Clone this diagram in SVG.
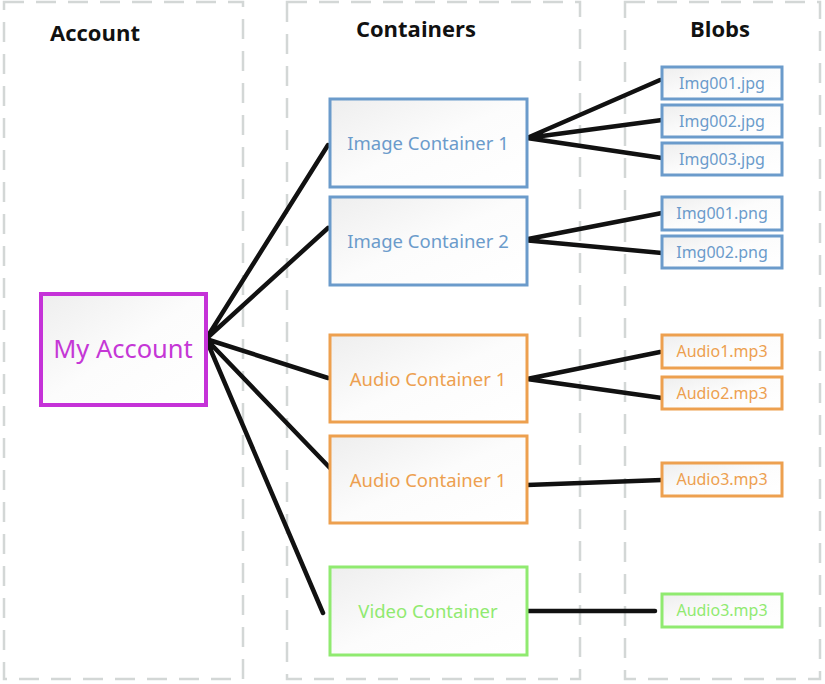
<svg xmlns="http://www.w3.org/2000/svg" width="825" height="684" viewBox="0 0 825 684">
<defs>
<linearGradient id="g" x1="0" y1="0" x2="1" y2="1">
<stop offset="0" stop-color="#eeeeee"/>
<stop offset="0.5" stop-color="#fcfcfc"/>
<stop offset="1" stop-color="#ffffff"/>
</linearGradient>
<style>
.col{fill:none;stroke:#d3d7d6;stroke-width:2.5;stroke-dasharray:20 12}
.hdr{font-family:"Open Sans","Noto Sans","Liberation Sans",sans-serif;font-weight:bold;font-size:22px;fill:#111;text-anchor:middle}
.box{fill:url(#g);stroke-width:3}
.blue{stroke:#6b9bcb}
.orange{stroke:#eda04f}
.green{stroke:#90ea70}
.t{font-family:"Noto Sans","Open Sans","Liberation Sans",sans-serif;font-size:18.5px;text-anchor:middle}
.tb{font-family:"Noto Sans","Open Sans","Liberation Sans",sans-serif;font-size:16px;text-anchor:middle}
.fb{fill:#6b9bcb}
.fo{fill:#eda04f}
.fg{fill:#90ea70}
.ln{stroke:#111;stroke-width:4.5;stroke-linecap:round;fill:none}
</style>
</defs>
<rect width="825" height="684" fill="#fff"/>
<g id="columns">
<rect class="col" x="4" y="2" width="239" height="677"/>
<rect class="col" x="287" y="2" width="293" height="677"/>
<rect class="col" x="625" y="2" width="195" height="677"/>
<text class="hdr" x="95" y="41">Account</text>
<text class="hdr" x="416" y="37">Containers</text>
<text class="hdr" x="720" y="37">Blobs</text>
</g>
<g id="connectors">
<path class="ln" d="M206 339 L328 145 M206 339 L328 228 M206 339 L328 378 M206 339 L330 468 M206 339 L323 613"/>
<path class="ln" d="M527 138 L660 80 M527 138 L662 120 M527 138 L662 158"/>
<path class="ln" d="M523 240 L662 213 M523 240 L662 253"/>
<path class="ln" d="M527 379 L660 352 M527 379 L662 398"/>
<path class="ln" d="M527 485 L662 480"/>
<path class="ln" d="M528 611 L655 611"/>
</g>
<g id="my-account">
<rect x="41" y="294" width="165" height="111" fill="url(#g)" stroke="#c532d8" stroke-width="4"/>
<text x="123" y="358" font-family="Noto Sans,Open Sans,Liberation Sans,sans-serif" font-size="25.5" text-anchor="middle" fill="#c537d6">My Account</text>
</g>
<g id="image-container-1">
<rect class="box blue" x="330" y="99" width="197" height="88"/>
<text class="t fb" x="428" y="150">Image Container 1</text>
</g>
<g id="image-container-2">
<rect class="box blue" x="330" y="197" width="197" height="88"/>
<text class="t fb" x="428" y="248">Image Container 2</text>
</g>
<g id="audio-container-1a">
<rect class="box orange" x="330" y="335" width="197" height="87"/>
<text class="t fo" x="428" y="386">Audio Container 1</text>
</g>
<g id="audio-container-1b">
<rect class="box orange" x="330" y="436" width="197" height="87"/>
<text class="t fo" x="428" y="487">Audio Container 1</text>
</g>
<g id="video-container">
<rect class="box green" x="330" y="567" width="197" height="88"/>
<text class="t fg" x="428" y="618">Video Container</text>
</g>
<g id="img001-jpg"><rect class="box blue" x="662" y="67" width="120" height="32"/><text class="tb fb" x="722" y="89">Img001.jpg</text></g>
<g id="img002-jpg"><rect class="box blue" x="662" y="105" width="120" height="32"/><text class="tb fb" x="722" y="127">Img002.jpg</text></g>
<g id="img003-jpg"><rect class="box blue" x="662" y="143" width="120" height="32"/><text class="tb fb" x="722" y="165">Img003.jpg</text></g>
<g id="img001-png"><rect class="box blue" x="662" y="197" width="120" height="33"/><text class="tb fb" x="722" y="219">Img001.png</text></g>
<g id="img002-png"><rect class="box blue" x="662" y="236" width="120" height="32"/><text class="tb fb" x="722" y="258">Img002.png</text></g>
<g id="audio1-mp3"><rect class="box orange" x="662" y="335" width="120" height="33"/><text class="tb fo" x="722" y="357">Audio1.mp3</text></g>
<g id="audio2-mp3"><rect class="box orange" x="662" y="377" width="120" height="32"/><text class="tb fo" x="722" y="399">Audio2.mp3</text></g>
<g id="audio3-mp3"><rect class="box orange" x="662" y="463" width="120" height="33"/><text class="tb fo" x="722" y="485">Audio3.mp3</text></g>
<g id="audio3-mp3-video"><rect class="box green" x="662" y="594" width="120" height="33"/><text class="tb fg" x="722" y="616">Audio3.mp3</text></g>
</svg>
